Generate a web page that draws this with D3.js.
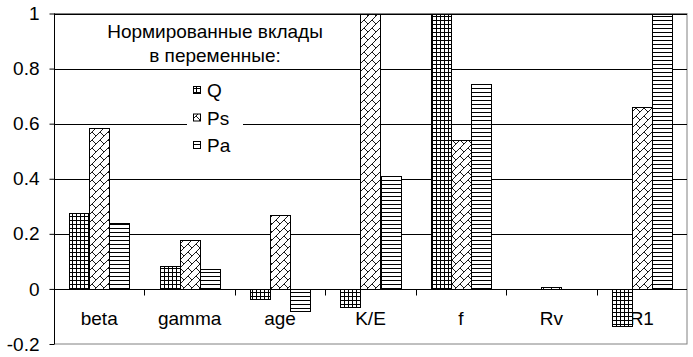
<!DOCTYPE html>
<html><head><meta charset="utf-8">
<script src="https://cdn.jsdelivr.net/npm/d3@7"></script>
<style>
body{margin:0;background:#fff;}
svg{display:block;font-family:Arial,"Liberation Sans",sans-serif;}
</style></head>
<body><svg id="c" width="693" height="357"></svg>
<script>
const categories = ["beta","gamma","age","K/E","f","Rv","R1"];
const seriesNames = ["Q","Ps","Pa"];
const valuesQ  = [0.277, 0.082, -0.037, -0.066, 1.0, 0, -0.134];
const valuesPs = [0.585, 0.177, 0.267, 1.0, 0.54, 0.006, 0.66];
const valuesPa = [0.238, 0.071, -0.081, 0.411, 0.743, 0, 1.0];
const yTickValues = [-0.2, 0, 0.2, 0.4, 0.6, 0.8, 1];
const yTickLabels = ["-0.2", "0", "0.2", "0.4", "0.6", "0.8", "1"];
const titleLines = ["Нормированные вклады", "в переменные:"];

const seriesValues = {Q: valuesQ, Ps: valuesPs, Pa: valuesPa};
const svg = d3.select("#c");
const L = 54, R = 687, T = 13.5, B = 344;
const FS = 19;

// patterns
const defs = svg.append("defs");
const pQ = defs.append("pattern").attr("id","pQ").attr("patternUnits","userSpaceOnUse").attr("width",4).attr("height",4);
pQ.append("rect").attr("width",4).attr("height",4).attr("fill","#fff");
pQ.append("path").attr("d","M0,0.5H4M0.5,0V4").attr("stroke","#000").attr("stroke-width",1);
const pPs = defs.append("pattern").attr("id","pPs").attr("patternUnits","userSpaceOnUse").attr("width",8).attr("height",8);
pPs.append("rect").attr("width",8).attr("height",8).attr("fill","#fff");
pPs.append("path").attr("d","M-1,9L9,-1M4,4L8,8M-4,4L0,8").attr("stroke","#000").attr("stroke-width",0.9).attr("fill","none");
const pPa = defs.append("pattern").attr("id","pPa").attr("patternUnits","userSpaceOnUse").attr("width",4).attr("height",4);
pPa.append("rect").attr("width",4).attr("height",4).attr("fill","#fff");
pPa.append("path").attr("d","M0,0.5H4").attr("stroke","#000").attr("stroke-width",1);
const fills = {Q:"url(#pQ)", Ps:"url(#pPs)", Pa:"url(#pPa)"};

const x0 = d3.scaleBand().domain(categories).range([L, R]).padding(0);
const x1 = d3.scaleBand().domain(seriesNames).range([0, x0.bandwidth()]).paddingInner(0).paddingOuter(0.75);
const y = d3.scaleLinear().domain([-0.2, 1]).range([B, T]);

// plot border
svg.append("rect").attr("x",L+0.5).attr("y",T).attr("width",R-L-0.5).attr("height",B-T)
  .attr("fill","none").attr("stroke","#808080").attr("stroke-width",1);

// gridlines
svg.append("g").selectAll("line").data(yTickValues.filter(v=>v>0))
  .join("line").attr("x1",L).attr("x2",R)
  .attr("y1",d=>Math.round(y(d))+0.5).attr("y2",d=>Math.round(y(d))+0.5)
  .attr("stroke","#000");

// x labels
svg.append("g").selectAll("text").data(categories).join("text")
  .attr("x",d=>x0(d)+x0.bandwidth()/2).attr("y",325)
  .attr("text-anchor","middle").attr("font-size",FS).text(d=>d);

// bars
const g = svg.append("g");
seriesNames.forEach(s=>{
  g.append("g").selectAll("rect").data(categories.map((c,i)=>({c, v: seriesValues[s][i]})))
   .join("rect")
   .attr("x",d=>Math.round(x0(d.c)+x1(s))+0.5)
   .attr("width",Math.round(x1.bandwidth()))
   .attr("y",d=>Math.round(y(Math.max(0,d.v)))+0.5)
   .attr("height",d=>Math.abs(Math.round(y(d.v))-Math.round(y(0))))
   .attr("fill",fills[s]).attr("stroke","#000").attr("stroke-width",1);
});

// x axis at 0
const y0 = Math.round(y(0))+0.5;
const xa = svg.append("g");
xa.append("line").attr("x1",L).attr("x2",R).attr("y1",y0).attr("y2",y0).attr("stroke","#000");
xa.selectAll("line.t").data(categories.slice(1)).join("line").attr("class","t")
  .attr("x1",d=>Math.round(x0(d))+0.5).attr("x2",d=>Math.round(x0(d))+0.5)
  .attr("y1",y0).attr("y2",y0+6).attr("stroke","#000");

// y axis
const ya = svg.append("g").attr("transform",`translate(${L+0.5},0)`)
  .call(d3.axisLeft(y).tickValues(yTickValues).tickSize(5).tickPadding(10)
        .tickFormat((d,i)=>yTickLabels[i]));
ya.select(".domain").attr("d",`M-0,${T}V${B}`).attr("stroke","#000");
ya.selectAll(".tick line").attr("stroke","#000");
ya.selectAll(".tick text").attr("font-size",FS).attr("font-family","Arial, 'Liberation Sans', sans-serif").attr("fill","#000");

// title
svg.append("g").selectAll("text").data(titleLines).join("text")
  .attr("x",215).attr("y",(d,i)=>38+i*24).attr("text-anchor","middle")
  .attr("font-size",FS).text(d=>d);

// legend
const lg = svg.append("g");
lg.append("rect").attr("x",187).attr("y",76).attr("width",56).attr("height",84).attr("fill","#fff");
seriesNames.forEach((s,i)=>{
  const cy = 90 + i*27.5;
  lg.append("rect").attr("x",193.5).attr("y",cy-3.5).attr("width",7).attr("height",7)
    .attr("fill",fills[s]).attr("stroke","#000");
  lg.append("text").attr("x",207).attr("y",cy+7).attr("font-size",FS).text(s);
});
</script></body></html>
